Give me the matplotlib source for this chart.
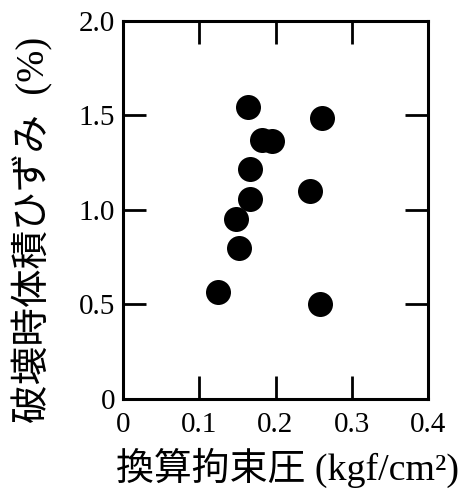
import matplotlib
matplotlib.use("Agg")
import matplotlib.pyplot as plt

# Data
confining_pressure = [0.1635, 0.2607, 0.1819, 0.1950, 0.1665, 0.2453, 0.1665, 0.1481, 0.1520, 0.1244, 0.2585]
volumetric_strain = [1.545, 1.487, 1.369, 1.364, 1.214, 1.101, 1.060, 0.952, 0.800, 0.566, 0.500]
x_ticks = [0, 0.1, 0.2, 0.3, 0.4]
x_ticklabels = ["0", "0.1", "0.2", "0.3", "0.4"]
y_ticks = [0, 0.5, 1.0, 1.5, 2.0]
y_ticklabels = ["0", "0.5", "1.0", "1.5", "2.0"]
x_label = "換算拘束圧 (kgf/cm²)"
y_label = "破壊時体積ひずみ  (%)"

fam = ["Liberation Serif", "Noto Sans CJK JP"]
plt.rcParams["font.family"] = fam

fig = plt.figure(figsize=(4.64, 4.92), dpi=100)
ax = fig.add_axes([123.3 / 464, (492 - 399) / 492, (427.7 - 123.3) / 464, (399 - 20.7) / 492])

ax.plot(confining_pressure, volumetric_strain, "o", color="black", markersize=18, markeredgewidth=0)

ax.set_xlim(0, 0.4)
ax.set_ylim(0, 2.0)
ax.set_xticks(x_ticks)
ax.set_xticklabels(x_ticklabels)
ax.set_yticks(y_ticks)
ax.set_yticklabels(y_ticklabels)

ax.tick_params(direction="in", length=16.5, width=2.0, top=True, right=True,
               labelsize=21, pad=6)
ax.tick_params(axis="x", pad=9)
for sp in ax.spines.values():
    sp.set_linewidth(2.2)

ax.set_xlabel(x_label, fontsize=27.3, family=fam)
ax.set_ylabel(y_label, fontsize=27.8, family=fam)
ax.xaxis.set_label_coords(0.538, -0.182)
ax.xaxis.label.set_va("center")
ax.yaxis.set_label_coords(-0.297, 0.447)
ax.yaxis.label.set_va("center")

fig.savefig("out.png", dpi=100)
